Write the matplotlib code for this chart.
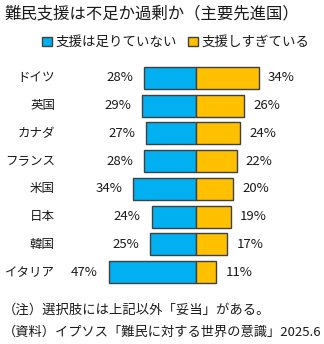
import matplotlib
matplotlib.use("Agg")
import matplotlib.pyplot as plt
from matplotlib.patches import Patch
from matplotlib.transforms import blended_transform_factory

plt.rcParams['font.family'] = ['Noto Sans CJK JP', 'DejaVu Sans']

countries = ["ドイツ", "英国", "カナダ", "フランス", "米国", "日本", "韓国", "イタリア"]
not_enough = [28, 29, 27, 28, 34, 24, 25, 47]
too_much = [34, 26, 24, 22, 20, 19, 17, 11]

blue = '#00B0F0'
yellow = '#FFC000'
edge = '#404040'
txt = '#1a1a1a'

W, H = 324, 344
fig = plt.figure(figsize=(W / 100, H / 100), dpi=100)

# axes placed so that 0% sits at x=196px, 1.85px per percent
px_per = 1.85
ax_l, ax_r = 90, 310
ax_t, ax_b = 64, 286
ax = fig.add_axes([ax_l / W, 1 - ax_b / H, (ax_r - ax_l) / W, (ax_b - ax_t) / H])
ax.set_xlim(-(196 - ax_l) / px_per, (ax_r - 196) / px_per)
n = len(countries)
ax.set_ylim(n - 0.5, -0.5)
ax.axis('off')

y = list(range(n))
neg = [-v for v in not_enough]
ax.barh(y, neg, height=0.8, color=blue, edgecolor=edge, linewidth=1)
ax.barh(y, too_much, height=0.8, color=yellow, edgecolor=edge, linewidth=1)

label_tr = blended_transform_factory(fig.transFigure, ax.transData)
for i in range(n):
    ax.annotate(f"{not_enough[i]}%", (neg[i], i), xytext=(-11, 0), textcoords='offset pixels',
                ha='right', va='center', fontsize=9.5, color=txt)
    ax.annotate(f"{too_much[i]}%", (too_much[i], i), xytext=(9, 0), textcoords='offset pixels',
                ha='left', va='center', fontsize=9.5, color=txt)
    ax.text(55 / W, i, countries[i], transform=label_tr,
            ha='right', va='center', fontsize=9, color=txt)

fig.text(4 / W, 1 - 14 / H, "難民支援は不足か過剰か（主要先進国）", ha='left', va='center', fontsize=11.8, color=txt)

handles = [Patch(facecolor=blue, edgecolor=edge, linewidth=1),
           Patch(facecolor=yellow, edgecolor=edge, linewidth=1)]
fig.legend(handles, ["支援は足りていない", "支援しすぎている"], loc='center',
           bbox_to_anchor=(176 / W, 1 - 42 / H), ncol=2, frameon=False, fontsize=9.7,
           handlelength=0.7, handleheight=0.7, handletextpad=0.3, columnspacing=0.8,
           borderpad=0, labelcolor=txt)

fig.text(3 / W, 1 - 310 / H, "（注）選択肢には上記以外「妥当」がある。", ha='left', va='center', fontsize=9.6, color=txt)
fig.text(3 / W, 1 - 332 / H, "（資料）イプソス「難民に対する世界の意識」2025.6", ha='left', va='center', fontsize=9.5, color=txt)

fig.savefig("out.png", dpi=100)
